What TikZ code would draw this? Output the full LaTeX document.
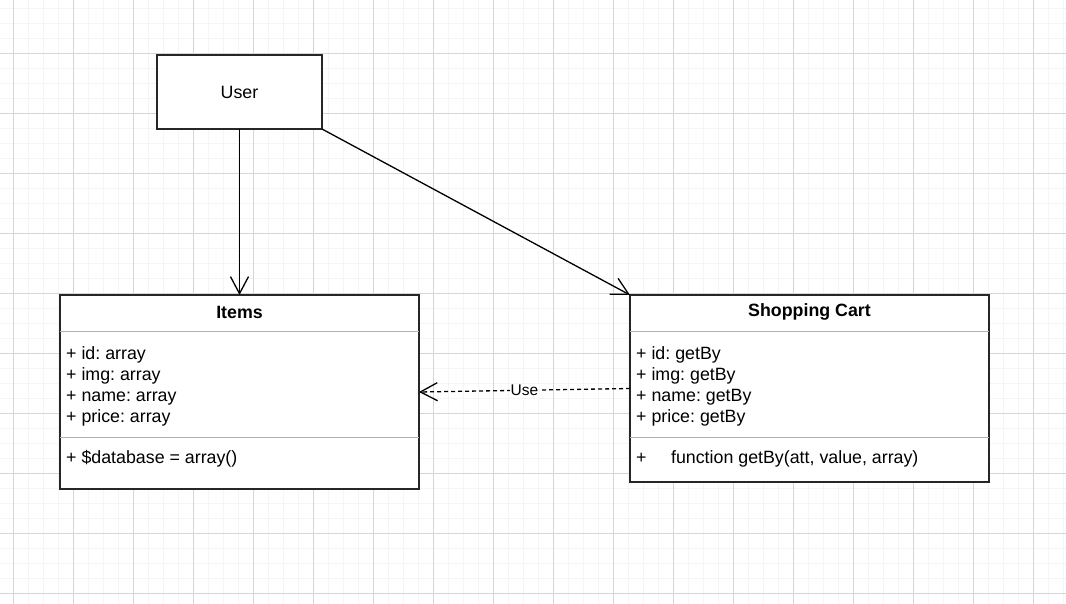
\documentclass[tikz,border=0pt]{standalone}
\usepackage{fontspec}
\setmainfont{Liberation Sans}
\frenchspacing
\usetikzlibrary{positioning,arrows.meta}

\begin{document}
\begin{tikzpicture}[
		x=1pt,y=-1pt,
		node distance=166pt and 211pt,
		font=\fontsize{17.8}{21}\selectfont,
		umlbox/.style={draw=black!85,line width=2pt,fill=white,inner sep=0pt,outer sep=0pt},
		umltitle/.style={font=\fontsize{17.8}{21}\selectfont\bfseries},
		umltext/.style={align=left,anchor=north west,inner sep=0pt},
		umlsep/.style={draw=black!30,line width=1pt},
		assoc/.style={line width=1.3pt,-{Straight Barb[length=17pt,width=18pt]}},
		usage/.style={line width=1.3pt,dash pattern=on 4pt off 3pt,-{Straight Barb[length=17pt,width=18pt]}},
		minorgrid/.style={draw=black!4,line width=1pt},
		majorgrid/.style={draw=black!16,line width=1pt}
		]
		\useasboundingbox (0,0) rectangle (1066,603);
		% background grid
		\begin{scope}[shift={(13.5,53.5)}]
			\draw[minorgrid,step=15pt] (-14,-54) grid (1053,550);
			\draw[majorgrid,step=60pt] (-14,-54) grid (1053,550);
		\end{scope}
		\node[umlbox,minimum width=165pt,minimum height=74pt] (user) at (239.5,92) {User};
		\node[umlbox,minimum width=359pt,minimum height=194pt,below=of user] (items) {};
		\node[umlbox,minimum width=359pt,minimum height=187pt,right=of items.north east,anchor=north west] (cart) {};
		% Items
		\node[umltitle] (itemstitle) at ([yshift=-17pt]items.north) {Items};
		\draw[umlsep] ([yshift=-36pt]items.north west) -- ([yshift=-36pt]items.north east);
		\node[umltext] (itemsattr) at ([xshift=6pt,yshift=-51pt]items.north west)
		{+ id: array\\+ img: array\\+ name: array\\+ price: array};
		\draw[umlsep] ([yshift=-142pt]items.north west) -- ([yshift=-142pt]items.north east);
		\node[umltext] (itemsop) at ([xshift=6pt,yshift=-155pt]items.north west)
		{+ \$database = array()};
		% Shopping Cart
		\node[umltitle] (carttitle) at ([yshift=-17pt]cart.north) {Shopping Cart};
		\draw[umlsep] ([yshift=-36pt]cart.north west) -- ([yshift=-36pt]cart.north east);
		\node[umltext] (cartattr) at ([xshift=6pt,yshift=-51pt]cart.north west)
		{+ id: getBy\\+ img: getBy\\+ name: getBy\\+ price: getBy};
		\draw[umlsep] ([yshift=-142pt]cart.north west) -- ([yshift=-142pt]cart.north east);
		\node[umltext] (cartop) at ([xshift=6pt,yshift=-155pt]cart.north west)
		{+\hspace{24.5pt}function getBy(att, value, array)};
		% connectors
		\draw[assoc] (user.south) -- (items.north);
		\draw[assoc] (user.south east) -- (cart.north west);
		\draw[usage] (cart.west) -- node[fill=white,inner sep=1pt,font=\fontsize{15.5}{18}\selectfont] (use) {Use} (items.east);
	\end{tikzpicture}
\end{document}
